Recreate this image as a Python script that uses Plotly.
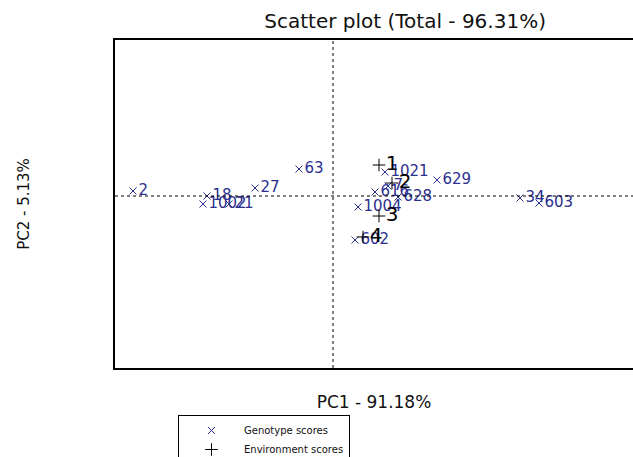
import plotly.graph_objects as go

# Genotype scores (PC1, PC2)
geno_names = ["2", "18", "1002", "21", "27", "63", "1021", "629", "7", "616",
              "628", "1004", "602", "34", "603"]
geno_pc1 = [-10.0, -6.3, -6.5, -5.2, -3.9, -1.7, 2.6, 5.2, 2.75, 2.1,
            3.25, 1.25, 1.1, 9.35, 10.3]
geno_pc2 = [0.25, 0.0, -0.4, -0.4, 0.4, 1.35, 1.2, 0.8, 0.5, 0.2,
            -0.05, -0.55, -2.2, -0.1, -0.35]

# Environment scores (PC1, PC2)
env_names = ["1", "2", "3", "4"]
env_pc1 = [2.3, 2.95, 2.3, 1.5]
env_pc2 = [1.55, 0.65, -1.0, -2.05]

x_range = [-10.9, 15.0]
y_range = [-8.6, 7.8]

NAVY = "#2B2F8F"
FONT = "DejaVu Sans"

fig = go.Figure()

fig.add_trace(go.Scatter(
    x=geno_pc1, y=geno_pc2, text=geno_names, mode="markers+text",
    textposition="middle right", name="Genotype scores",
    marker=dict(symbol="x-thin", size=7, line=dict(color=NAVY, width=1), color=NAVY),
    textfont=dict(family=FONT, size=15, color=NAVY),
))
fig.add_trace(go.Scatter(
    x=env_pc1, y=env_pc2, text=env_names, mode="markers+text",
    textposition="middle right", name="Environment scores",
    marker=dict(symbol="cross-thin", size=9, line=dict(color="black", width=1), color="black"),
    textfont=dict(family=FONT, size=20, color="black"),
))

fig.add_shape(type="line", xref="x", yref="y domain", x0=0, x1=0, y0=0, y1=1,
              line=dict(color="black", width=1, dash="dot"))
fig.add_shape(type="line", xref="x domain", yref="y", x0=0, x1=1, y0=0, y1=0,
              line=dict(color="black", width=1, dash="dot"))

fig.update_layout(
    width=633, height=457,
    margin=dict(l=115, r=0, t=40, b=89, autoexpand=False),
    paper_bgcolor="white", plot_bgcolor="white",
    font=dict(family=FONT, color="black"),
    title=dict(text="Scatter plot (Total - 96.31%)", x=0.64, xanchor="center",
               y=1 - 21 / 457, yanchor="middle", yref="container",
               font=dict(family=FONT, size=20, color="#111111")),
    xaxis=dict(range=x_range, showline=True, linecolor="black", linewidth=2,
               mirror=True, showticklabels=False, ticks="", showgrid=False,
               zeroline=False, automargin=False,
               title=dict(text="PC1 - 91.18%", standoff=27,
                          font=dict(family=FONT, size=17, color="#111111"))),
    yaxis=dict(range=y_range, showline=True, linecolor="black", linewidth=2,
               mirror=False, showticklabels=False, ticks="", showgrid=False,
               zeroline=False, automargin=False,
               title=dict(text="PC2 - 5.13%", standoff=80,
                          font=dict(family=FONT, size=15, color="#111111"))),
    legend=dict(x=(178 - 115) / 518, y=(368 - 415) / 328, xanchor="left", yanchor="top",
                bordercolor="black", borderwidth=1, bgcolor="white",
                font=dict(family=FONT, size=10, color="#111111"),
                tracegroupgap=0, itemwidth=55),
    showlegend=True,
)

fig.write_html("out.html", config={"displayModeBar": False},
               post_script="document.body.style.margin='0';document.body.style.padding='0';")
